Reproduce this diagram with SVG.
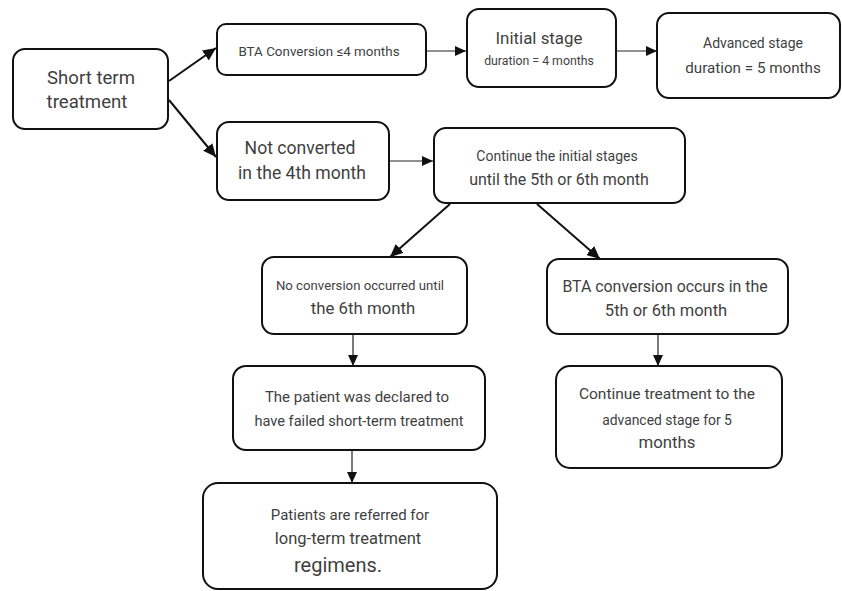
<svg xmlns="http://www.w3.org/2000/svg" width="842" height="591" viewBox="0 0 842 591">
<style>
  .box { fill: #ffffff; stroke: #111111; stroke-width: 2; }
  text { font-family: Roboto, "Liberation Sans", sans-serif; fill: #3f3f3f; text-anchor: middle; dominant-baseline: central; }
  .thick { stroke: #111111; stroke-width: 2; fill: none; }
  .thin { stroke: #222222; stroke-width: 1.2; fill: none; }
</style>
<defs>
  <marker id="ah" markerUnits="userSpaceOnUse" markerWidth="14" markerHeight="12" refX="13" refY="6" orient="auto">
    <path d="M0,0 L13,6 L0,12 Z" fill="#111111"/>
  </marker>
  <marker id="ahs" markerUnits="userSpaceOnUse" markerWidth="12" markerHeight="10" refX="11" refY="5" orient="auto">
    <path d="M0,0 L11,5 L0,10 Z" fill="#111111"/>
  </marker>
</defs>
<rect width="842" height="591" fill="#ffffff"/>
<g id="connectors">
  <line class="thick" x1="169" y1="81" x2="216" y2="48" marker-end="url(#ah)"/>
  <line class="thick" x1="169" y1="100" x2="216" y2="157" marker-end="url(#ah)"/>
  <line class="thin" x1="426" y1="51" x2="466" y2="51" marker-end="url(#ahs)"/>
  <line class="thin" x1="616" y1="51" x2="657" y2="51" marker-end="url(#ahs)"/>
  <line class="thin" x1="389" y1="161" x2="433" y2="161" marker-end="url(#ahs)"/>
  <line class="thick" x1="450" y1="204" x2="390" y2="257" marker-end="url(#ah)"/>
  <line class="thick" x1="537" y1="204" x2="600" y2="259" marker-end="url(#ah)"/>
  <line class="thin" x1="353" y1="334" x2="353" y2="366" marker-end="url(#ahs)"/>
  <line class="thin" x1="658" y1="334" x2="658" y2="366" marker-end="url(#ahs)"/>
  <line class="thin" x1="352" y1="450" x2="352" y2="483" marker-end="url(#ahs)"/>
</g>
<g id="short-term">
  <rect class="box" x="13" y="49" width="155" height="80" rx="12"/>
  <text x="91" y="78" font-size="18.6">Short term</text>
  <text x="87" y="102" font-size="18.6">treatment</text>
</g>
<g id="bta-4">
  <rect class="box" x="217" y="24" width="209" height="51" rx="9"/>
  <text x="319" y="51" font-size="13.4">BTA Conversion ≤4 months</text>
</g>
<g id="initial">
  <rect class="box" x="467" y="9" width="149" height="78" rx="12"/>
  <text x="539" y="38" font-size="16.9">Initial stage</text>
  <text x="539" y="61" font-size="12.3">duration = 4 months</text>
</g>
<g id="advanced">
  <rect class="box" x="657" y="13" width="183" height="85" rx="12"/>
  <text x="753" y="43" font-size="14">Advanced stage</text>
  <text x="753" y="68" font-size="15.2">duration = 5 months</text>
</g>
<g id="not-converted">
  <rect class="box" x="217" y="122" width="172" height="78" rx="12"/>
  <text x="300" y="148" font-size="17.6">Not converted</text>
  <text x="302" y="173" font-size="17.6">in the 4th month</text>
</g>
<g id="continue-initial">
  <rect class="box" x="434" y="128" width="251" height="75" rx="12"/>
  <text x="557" y="156" font-size="14">Continue the initial stages</text>
  <text x="559" y="179" font-size="16">until the 5th or 6th month</text>
</g>
<g id="no-conversion">
  <rect class="box" x="262" y="257" width="205" height="77" rx="12"/>
  <text x="360" y="285" font-size="13.2">No conversion occurred until</text>
  <text x="363" y="308" font-size="16.8">the 6th month</text>
</g>
<g id="bta-56">
  <rect class="box" x="547" y="259" width="241" height="75" rx="12"/>
  <text x="665" y="286" font-size="15.9">BTA conversion occurs in the</text>
  <text x="666" y="310" font-size="16.5">5th or 6th month</text>
</g>
<g id="failed">
  <rect class="box" x="233" y="366" width="252" height="84" rx="13"/>
  <text x="357" y="397" font-size="15">The patient was declared to</text>
  <text x="359" y="421" font-size="14.6">have failed short-term treatment</text>
</g>
<g id="continue-advanced">
  <rect class="box" x="556" y="366" width="226" height="102" rx="14"/>
  <text x="667" y="394" font-size="15.5">Continue treatment to the</text>
  <text x="667" y="420" font-size="13.9">advanced stage for 5</text>
  <text x="667" y="442" font-size="16.8">months</text>
</g>
<g id="referred">
  <rect class="box" x="203" y="483" width="294" height="106" rx="15"/>
  <text x="350" y="515" font-size="15">Patients are referred for</text>
  <text x="348" y="538" font-size="16.5">long-term treatment</text>
  <text x="338" y="565" font-size="20">regimens.</text>
</g>
</svg>
